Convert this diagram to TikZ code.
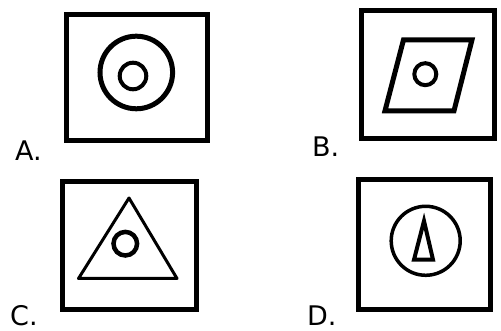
\documentclass[tikz,border=0pt]{standalone}
\usepackage{fontspec}
\setmainfont{DejaVu Sans}

\begin{document}
\begin{tikzpicture}[x=1pt,y=1pt,
    box/.style={draw,line width=5pt,inner sep=0},
    lab/.style={anchor=base west,inner sep=0,font=\fontsize{27}{30}\selectfont}]
            \useasboundingbox (0,0) rectangle (501,331);
            % the four boxes
            \draw (137,253.5) node[box,minimum width=141pt,
             minimum height=126pt] (A) {};
            \draw (428,256.5) node[box,minimum width=133pt,
             minimum height=128pt] (B) {};
            \draw (129.5,85.5) node[box,minimum width=134pt,
             minimum height=128pt] (C) {};
            \draw (424.5,86.5) node[box,minimum width=132pt,
             minimum height=130pt] (D) {};
            % labels
            \draw (15,170) node[lab] (labA) {A.};
            \draw (312,174) node[lab] (labB) {B.};
            \draw (10,5) node[lab] (labC) {C.};
            \draw (307,5.5) node[lab] (labD) {D.};
            % A: two circles
            \draw[line width=5pt] (136.3,258.5) circle (36.3);
            \draw[line width=4pt] (133,255) circle (13.3);
            % B: slanted box with a circle
            \draw[line width=5pt,line join=miter]
             (403.5,291.2)--(472,291.2)--(454,220.2)--(385,220.2)--cycle;
            \draw[line width=4pt] (425.3,256.8) circle (11);
            % C: triangle with a circle
            \draw[line width=3pt,line join=round]
             (129,133)--(177,52.5)--(78.5,52.5)--cycle;
            \draw[line width=4.5pt] (125.3,87.3) circle (11.8);
            % D: circle with a thin triangle
            \draw[line width=3.5pt] (425.7,90.2) circle (34.5);
            \draw[line width=4pt,line join=miter]
             (424,110)--(433,71.3)--(414,71.3)--cycle;
        \end{tikzpicture}
\end{document}
